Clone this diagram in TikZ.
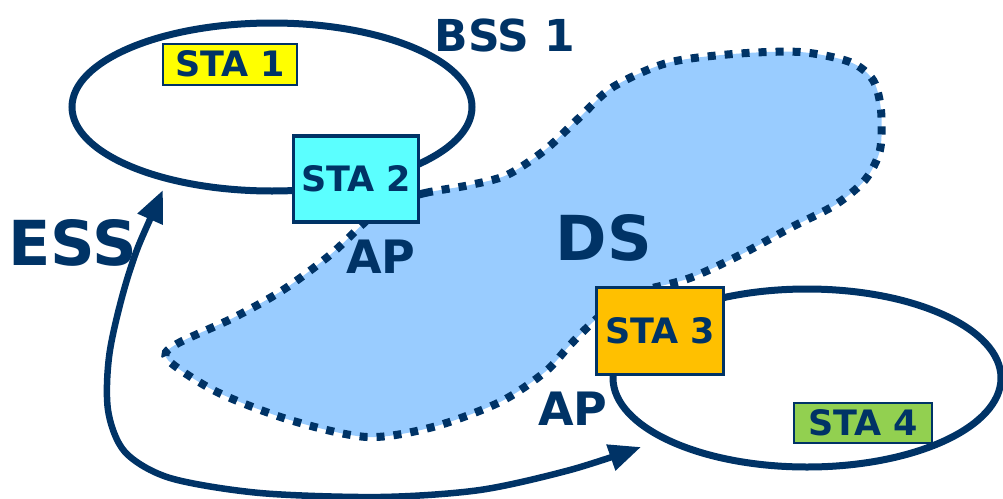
\documentclass[tikz,border=0pt]{standalone}
\usepackage{fontspec}
\setmainfont{DejaVu Sans}
\usetikzlibrary{shapes.geometric,arrows.meta}
\definecolor{navy}{HTML}{003366}
\definecolor{dsblue}{HTML}{99CCFF}
\definecolor{staone}{HTML}{FFFF00}
\definecolor{statwo}{HTML}{5BFFFF}
\definecolor{stathree}{HTML}{FFC000}
\definecolor{stafour}{HTML}{92D050}

\begin{document}
\begin{tikzpicture}[x=1pt,y=-1pt]
  \tikzset{bss/.style={ellipse,draw=navy,line width=7pt,inner sep=0pt},
    sta/.style={rectangle,draw=navy,text=navy,inner sep=0pt,font=\bfseries\fontsize{35}{40}\selectfont},
    lbl/.style={text=navy,inner sep=0pt,font=\bfseries\fontsize{#1}{#1}\selectfont},
    dsarea/.style={fill=dsblue,draw=navy,line width=8pt,dash pattern=on 8pt off 9pt},
    essline/.style={draw=navy,line width=6.5pt,{Triangle[length=32pt,width=26pt]}-{Triangle[length=32pt,width=26pt]}}}
  \useasboundingbox (0,0) rectangle (1003,498);
  \node[bss,minimum width=400pt,minimum height=168pt] (bss1) at (272,107) {};
  \node[bss,minimum width=388pt,minimum height=178pt] (bss2) at (807,378) {};
  \draw[dsarea] plot[smooth cycle] coordinates {(385,205) (425,193) (470,185) (507,175) (545,150)
    (580,117) (613,87) (667,63) (733,54) (800,52) (850,62) (873,80) (881,110) (880,150) (865,180)
    (835,205) (790,228) (740,255) (690,278) (645,290) (620,300) (593,322) (570,345) (545,372)
    (500,402) (433,427) (367,437) (290,420) (217,392) (168,360) (175,345) (233,318) (283,290)
    (330,255) (365,222)};
  \node[sta,fill=staone,line width=2pt,minimum width=134pt,minimum height=41pt] (sta1) at (230,64) {STA 1};
  \node[sta,fill=statwo,line width=3.5pt,minimum width=125pt,minimum height=86pt] (sta2) at (356,179) {STA 2};
  \node[sta,fill=stathree,line width=3.5pt,minimum width=127pt,minimum height=87pt] (sta3) at (660,331) {STA 3};
  \node[sta,fill=stafour,line width=2.5pt,minimum width=138pt,minimum height=40pt] (sta4) at (863,423) {STA 4};
  \node[lbl=44] (bsslabel) at (505,35) {BSS 1};
  \node[lbl=62] (esslabel) at (73,243) {ESS};
  \node[lbl=62] (dslabel) at (604,238) {DS};
  \node[lbl=46] (aptop) at (381,257) {AP};
  \node[lbl=46] (apbottom) at (573,409) {AP};
  \coordinate (esstop) at (163,190);
  \coordinate (essend) at (641,447);
  \draw[essline] plot[smooth] coordinates {(esstop) (130,270) (110,350) (108,410) (125,452) (170,478)
    (260,493) (380,497) (480,490) (570,470) (essend)};
\end{tikzpicture}
\end{document}
